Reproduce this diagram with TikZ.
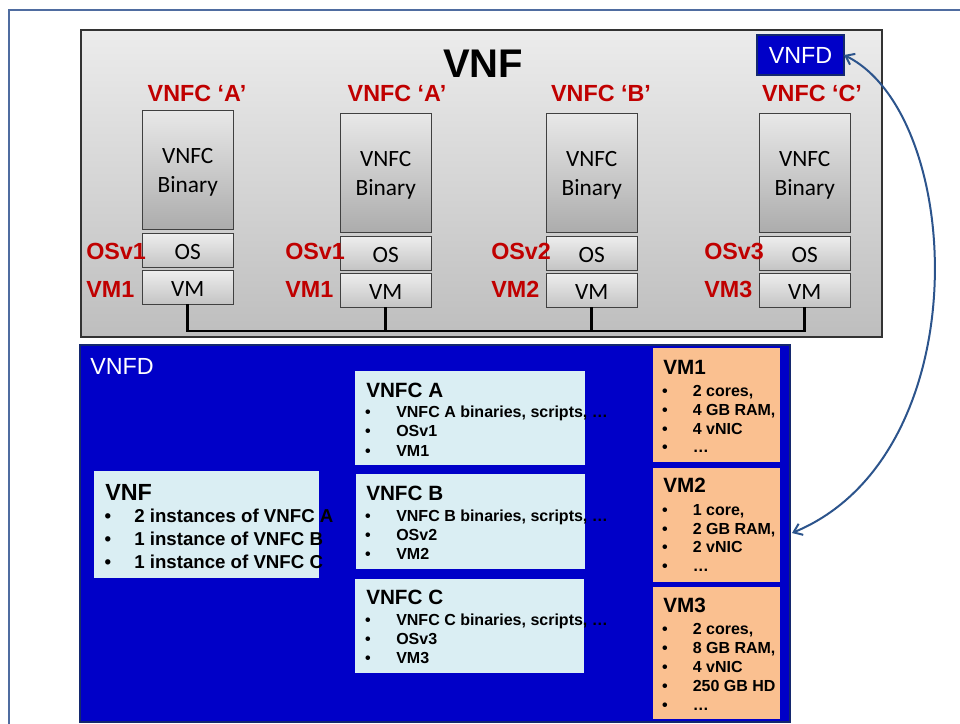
\documentclass[tikz,border=0pt]{standalone}
\usepackage{fontspec}
\setmainfont{Liberation Sans}
\newfontfamily\carl{Carlito}
\usetikzlibrary{arrows.meta}
\definecolor{vred}{RGB}{192,0,0}
\definecolor{vblue}{RGB}{0,0,200}
\definecolor{vnavy}{RGB}{20,40,110}
\definecolor{lblue}{RGB}{218,238,243}
\definecolor{vorange}{RGB}{250,192,144}
\definecolor{arr}{RGB}{44,84,140}
\definecolor{frm}{RGB}{79,108,160}
\definecolor{gtop}{RGB}{236,236,236}
\definecolor{gbot}{RGB}{190,190,190}
\definecolor{btop}{RGB}{232,232,232}
\definecolor{bbot}{RGB}{172,172,172}
\definecolor{otop}{RGB}{238,238,238}
\definecolor{obot}{RGB}{196,196,196}
\begin{document}
\begin{tikzpicture}[x=0.75pt,y=-0.75pt,
  wh/.style 2 args={minimum width=#1*0.75pt, minimum height=#2*0.75pt},
  plainbox/.style={anchor=north west, inner sep=0pt, outer sep=0pt},
  binbox/.style={plainbox, draw=black!75, line width=0.6pt, top color=btop, bottom color=bbot},
  osbox/.style={plainbox, draw=black!75, line width=0.6pt, top color=otop, bottom color=obot},
  stacktext/.style={font=\carl\fontsize{17.5}{22}\selectfont, align=center, inner sep=0pt, yshift=-1.5pt},
  redlab/.style={font=\bfseries\fontsize{17.5}{20}\selectfont, text=vred, inner sep=0pt},
  lbox/.style={plainbox, fill=lblue},
  obox/.style={plainbox, fill=vorange},
  ttl/.style={font=\bfseries\fontsize{15.5}{18}\selectfont, anchor=base west, inner sep=0pt},
  itm/.style={font=\bfseries\fontsize{12}{14}\selectfont, anchor=base west, inner sep=0pt},
  bul/.style={font=\bfseries\fontsize{12}{14}\selectfont, anchor=base, inner sep=0pt},
  bitm/.style={font=\bfseries\fontsize{14}{16}\selectfont, anchor=base west, inner sep=0pt},
  bbul/.style={font=\bfseries\fontsize{14}{16}\selectfont, anchor=base, inner sep=0pt},
  bus/.style={draw=black, line width=2.2pt},
  conn/.style={draw=arr, line width=1.5pt, {Straight Barb[length=6pt,width=9pt]}-{Straight Barb[length=6pt,width=9pt]}}
]
\useasboundingbox (0,0) rectangle (960,724);
\clip (0,0) rectangle (960,724);
% outer frame
\draw[frm, line width=1.3pt] (9,10) rectangle (1010,780);

% VNF gray box
\node[plainbox, wh={801}{307}, draw=black!80, line width=0.8pt, top color=gtop, bottom color=gbot] (vnf) at (81,30) {};
\node[font=\bfseries\fontsize{30}{36}\selectfont, anchor=base, inner sep=0pt] (vnftitle) at (483,78) {VNF};
\node[plainbox, wh={87}{40}, fill=vblue, draw=vnavy, line width=1pt, text=white, font=\fontsize{17.5}{20}\selectfont] (vnfdsmall) at (757,35) {VNFD};

% stacks
\foreach \n/\x/\dy/\lab/\os/\vm/\lx/\cx in {1/142/-3/A/OSv1/VM1/86/197, 2/340/0/A/OSv1/VM1/285/397, 3/546/0/B/OSv2/VM2/491/601, 4/759/0/C/OSv3/VM3/704/812}{
  \node[redlab, anchor=base] (lab\n) at (\cx,102) {VNFC ‘\lab’};
  \node[binbox, wh={91.5}{119}] (bin\n) at (\x,113.7+\dy) {};
  \node[stacktext] (bint\n) at (bin\n.center) {VNFC\\Binary};
  \node[osbox, wh={91.5}{34}] (os\n) at (\x,236+\dy) {};
  \node[stacktext] (ost\n) at (os\n.center) {OS};
  \node[osbox, wh={91.5}{34}] (vm\n) at (\x,273+\dy) {};
  \node[stacktext] (vmt\n) at (vm\n.center) {VM};
  \node[redlab, anchor=base west] (osl\n) at (\lx,259) {\os};
  \node[redlab, anchor=base west] (vml\n) at (\lx,297.5) {\vm};
}
\coordinate (busy) at (0,331);
\draw[bus] (vm1.south) |- (vm4.south |- busy) -- (vm4.south);
\draw[bus] (vm2.south) -- (vm2.south |- busy);
\draw[bus] (vm3.south) -- (vm3.south |- busy);

% VNFD blue box
\node[plainbox, wh={710}{377}, fill=vblue, draw=vnavy, line width=1.1pt] (vnfd) at (80,345) {};
\node[anchor=base west, inner sep=0pt, text=white, font=\fontsize{17.5}{20}\selectfont] (vnfdlab) at (90,374) {VNFD};

% VNF description
\node[lbox, wh={225}{107}] (vnfbox) at (94,471) {};
\node[font=\bfseries\fontsize{17.5}{20}\selectfont, anchor=base west, inner sep=0pt] (vnfbt) at (105,500) {VNF};
\foreach \t/\y in {{2 instances of VNFC A}/522.7, {1 instance of VNFC B}/545.5, {1 instance of VNFC C}/568.3}{
  \node[bbul] at (108,\y) {•};
  \node[bitm] at (134,\y) {\t};
}

% VNFC boxes
\node[lbox, wh={230}{94}] (vnfcA) at (355,371) {};
\node[ttl] (vnfcAt) at (366,397) {VNFC A};
\foreach \t/\y in {{VNFC A binaries, scripts, …}/417, {OSv1}/436.5, {VM1}/456}{
  \node[bul] at (368,\y) {•};
  \node[itm] at (396,\y) {\t};
}
\node[lbox, wh={229}{95}] (vnfcB) at (356,474) {};
\node[ttl] (vnfcBt) at (366,500) {VNFC B};
\foreach \t/\y in {{VNFC B binaries, scripts, …}/521.7, {OSv2}/540.5, {VM2}/559.5}{
  \node[bul] at (368,\y) {•};
  \node[itm] at (396,\y) {\t};
}
\node[lbox, wh={229}{94}] (vnfcC) at (355,579) {};
\node[ttl] (vnfcCt) at (366,604) {VNFC C};
\foreach \t/\y in {{VNFC C binaries, scripts, …}/625, {OSv3}/644, {VM3}/663}{
  \node[bul] at (368,\y) {•};
  \node[itm] at (396,\y) {\t};
}

% VM boxes
\node[obox, wh={127}{114}] (vmd1) at (653,348) {};
\node[ttl] (vmd1t) at (663,374) {VM1};
\foreach \t/\y in {{2 cores,}/396, {4 GB RAM,}/415, {4 vNIC}/434, {…}/452.7}{
  \node[bul] at (665,\y) {•};
  \node[itm] at (692.5,\y) {\t};
}
\node[obox, wh={127}{114}] (vmd2) at (653,468) {};
\node[ttl] (vmd2t) at (663,492.7) {VM2};
\foreach \t/\y in {{1 core,}/515, {2 GB RAM,}/534, {2 vNIC}/552.7, {…}/571.7}{
  \node[bul] at (665,\y) {•};
  \node[itm] at (692.5,\y) {\t};
}
\node[obox, wh={127}{132}] (vmd3) at (653,587) {};
\node[ttl] (vmd3t) at (663,612.7) {VM3};
\foreach \t/\y in {{2 cores,}/634, {8 GB RAM,}/653.3, {4 vNIC}/672.7, {250 GB HD}/691.7, {…}/710}{
  \node[bul] at (665,\y) {•};
  \node[itm] at (692.5,\y) {\t};
}

% arrow
\coordinate (aend) at (792,533);
\draw[conn] (vnfdsmall.east) .. controls (965,115) and (980,455) .. (aend);
\end{tikzpicture}
\end{document}
